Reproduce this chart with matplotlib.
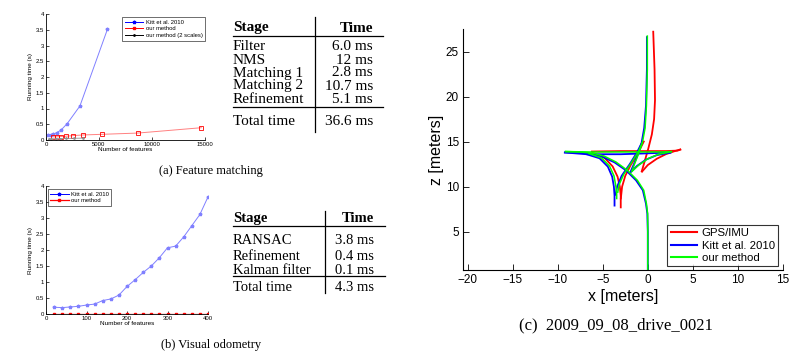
import matplotlib
matplotlib.use("Agg")
import matplotlib.pyplot as plt
from matplotlib.lines import Line2D

plt.rcParams['font.family'] = ['Liberation Sans', 'DejaVu Sans']

# ---------------- data ----------------
# (a) feature matching running time
kitt_a_x = [200, 450, 700, 1000, 1400, 2000, 3200, 5800]
kitt_a_y = [0.15, 0.17, 0.19, 0.23, 0.31, 0.52, 1.08, 3.52]
ours_a_x = [700, 1050, 1400, 1900, 2550, 3500, 5250, 8650, 14650]
ours_a_y = [0.10, 0.10, 0.11, 0.12, 0.14, 0.16, 0.18, 0.22, 0.39]
ours2_a_x = [250, 500, 900, 1300, 1900, 2600, 3500]
ours2_a_y = [0.03, 0.035, 0.04, 0.045, 0.05, 0.055, 0.06]

# (b) visual odometry running time
feat_b = [20, 40, 60, 80, 100, 120, 140, 160, 180, 200, 220, 240, 260, 280,
          300, 320, 340, 360, 380, 400]
kitt_b = [0.21, 0.20, 0.22, 0.24, 0.28, 0.31, 0.42, 0.47, 0.59, 0.86, 1.07,
          1.30, 1.50, 1.76, 2.07, 2.12, 2.41, 2.76, 3.11, 3.66]
ours_b = [0.005] * 20

# tables
stages_a = ["Filter", "NMS", "Matching 1", "Matching 2", "Refinement"]
times_a = ["6.0 ms", "12 ms", "2.8 ms", "10.7 ms", "5.1 ms"]
total_a = "36.6 ms"
stages_b = ["RANSAC", "Refinement", "Kalman filter"]
times_b = ["3.8 ms", "0.4 ms", "0.1 ms"]
total_b = "4.3 ms"

# (c) trajectories (x, z) in meters, as segments
gps_x = [[-6.3, -3.0, 0.0, 2.0, 3.3, 3.7],
         [-6.2, -4.8, -3.9, -3.35, -3.1, -3.0, -3.0],
         [-3.0, -2.85, -2.5, -1.9, -1.2, -0.7, -0.4],
         [0.6, 0.75, 0.8, 0.7, 0.45, 0.05, -0.35, -0.7],
         [-0.7, 0.0, 1.0, 2.0, 3.0, 3.7]]
gps_z = [[13.9, 13.95, 13.95, 13.95, 14.0, 14.15],
         [13.75, 13.2, 12.25, 11.1, 10.0, 9.0, 7.6],
         [8.6, 10.0, 11.2, 12.4, 13.5, 14.5, 15.1],
         [27.3, 23.0, 19.6, 17.5, 15.8, 14.2, 12.8, 11.6],
         [11.6, 12.4, 13.1, 13.6, 13.95, 14.15]]

kitt_x = [[0, 0, -0.05, -0.2, -0.55, -1.3, -2.4, -3.7, -5.0, -6.1, -7.5, -9.3],
          [-9.3, -6.8, -3.0, 0.0, 1.3, 2.6],
          [-6.8, -5.35, -4.43, -3.95, -3.76, -3.69, -3.69],
          [-3.6, -3.4, -2.9, -2.0, -1.2, -0.7, -0.4, -0.2, -0.1, -0.1],
          [-0.7, -1.1, -1.5, -1.95],
          [-1.95, -1.2, -0.2, 1.0, 2.6]]
kitt_z = [[0.75, 5, 7, 8.1, 9.6, 10.7, 11.8, 12.7, 13.3, 13.6, 13.75, 13.8],
          [13.8, 13.6, 13.6, 13.7, 13.75, 13.8],
          [13.6, 13.15, 12.22, 11.11, 10.0, 9.0, 7.8],
          [9.0, 10.0, 11.2, 12.5, 13.8, 14.8, 16.5, 19.0, 23.0, 26.7],
          [14.8, 13.6, 12.6, 11.56],
          [11.56, 12.3, 13.0, 13.5, 13.8]]

ours_x = [[0, 0, -0.02, -0.15, -0.45, -1.15, -2.25, -3.55, -4.85, -6.0, -7.5, -9.2],
          [-9.2, -6.5, -3.0, 0.0, 1.5, 2.7],
          [-6.6, -5.15, -4.25, -3.75, -3.55, -3.45, -3.45],
          [-3.35, -3.15, -2.65, -1.8, -1.05, -0.6, -0.3, -0.15, -0.05, -0.05],
          [-0.6, -1.0, -1.4, -1.8],
          [-1.8, -1.0, 0.0, 1.2, 2.7]]
ours_z = [[0.75, 5, 7, 8.1, 9.6, 10.7, 11.8, 12.75, 13.4, 13.7, 13.85, 13.9],
          [13.9, 13.85, 13.85, 13.85, 13.85, 13.9],
          [13.7, 13.2, 12.3, 11.2, 10.1, 9.2, 8.6],
          [9.3, 10.3, 11.4, 12.7, 13.9, 14.9, 16.5, 19.0, 23.0, 26.8],
          [14.9, 13.7, 12.7, 11.65],
          [11.65, 12.4, 13.1, 13.6, 13.9]]

# ---------------- figure ----------------
W, H = 800, 359
fig = plt.figure(figsize=(W / 100, H / 100), dpi=100)


def box(l, t, r, b):
    return [l / W, 1 - b / H, (r - l) / W, (b - t) / H]


def style_small(ax):
    for s in ['top', 'right']:
        ax.spines[s].set_visible(False)
    for s in ['left', 'bottom']:
        ax.spines[s].set_linewidth(0.6)
    ax.tick_params(direction='in', length=2, width=0.5, labelsize=4.3, pad=1.5)


# (a)
ax1 = fig.add_axes(box(46, 14, 205, 140))
ax1.plot(kitt_a_x, kitt_a_y, color='#8080ff', lw=0.7, marker='*', ms=2.5)
ax1.plot(ours_a_x, ours_a_y, color='#ff8080', lw=0.7, marker='s', ms=2.5,
         mfc='none', mec='red', mew=0.6)
ax1.plot(ours2_a_x, ours2_a_y, color='#909090', lw=0.6, marker='.', ms=2)
ax1.set_xlim(0, 15000)
ax1.set_ylim(0, 4)
ax1.set_xticks([0, 5000, 10000, 15000])
ax1.set_yticks([0, 0.5, 1, 1.5, 2, 2.5, 3, 3.5, 4])
ax1.set_yticklabels(['0', '0.5', '1', '1.5', '2', '2.5', '3', '3.5', '4'])
style_small(ax1)
ax1.set_xlabel('Number of features', fontsize=4.6, labelpad=0)
ax1.set_ylabel('Running time (s)', fontsize=4.6, labelpad=2)
h1 = [Line2D([], [], color='b', lw=0.7, marker='*', ms=2.5),
      Line2D([], [], color='r', lw=0.7, marker='s', ms=2),
      Line2D([], [], color='k', lw=0.7, marker='.', ms=2)]
leg = ax1.legend(h1, ['Kitt et al. 2010', 'our method', 'our method (2 scales)'],
                 loc='upper right', bbox_to_anchor=(1.0, 0.975), fontsize=4.2,
                 frameon=True, fancybox=False, edgecolor='k', handlelength=3.2,
                 borderpad=0.4, labelspacing=0.3, handletextpad=0.4, borderaxespad=0)
leg.get_frame().set_linewidth(0.5)

# (b)
ax2 = fig.add_axes(box(46, 186, 208, 314))
ax2.plot(feat_b, kitt_b, color='#8080ff', lw=0.7, marker='*', ms=2.5)
ax2.plot(feat_b, ours_b, color='red', lw=0.9, marker='s', ms=2)
ax2.set_xlim(0, 400)
ax2.set_ylim(0, 4)
ax2.set_xticks([0, 100, 200, 300, 400])
ax2.set_yticks([0, 0.5, 1, 1.5, 2, 2.5, 3, 3.5, 4])
ax2.set_yticklabels(['0', '0.5', '1', '1.5', '2', '2.5', '3', '3.5', '4'])
style_small(ax2)
ax2.set_xlabel('Number of features', fontsize=4.6, labelpad=0)
ax2.set_ylabel('Running time (s)', fontsize=4.6, labelpad=2)
h2 = [Line2D([], [], color='b', lw=0.7, marker='*', ms=2.5),
      Line2D([], [], color='r', lw=0.9, marker='s', ms=2)]
leg2 = ax2.legend(h2, ['Kitt et al. 2010', 'our method'], loc='upper left',
                  bbox_to_anchor=(0.01, 0.975), fontsize=4.2, frameon=True,
                  fancybox=False, edgecolor='k', handlelength=3.2, borderpad=0.4,
                  labelspacing=0.3, handletextpad=0.4, borderaxespad=0)
leg2.get_frame().set_linewidth(0.5)


# tables
def fx(x):
    return x / W


def fy(y):
    return 1 - y / H


def hline(x0, x1, y, lw=0.9):
    fig.add_artist(Line2D([fx(x0), fx(x1)], [fy(y), fy(y)],
                          transform=fig.transFigure, color='k', lw=lw))


def vline(x, y0, y1, lw=0.9):
    fig.add_artist(Line2D([fx(x), fx(x)], [fy(y0), fy(y1)],
                          transform=fig.transFigure, color='k', lw=lw))


serif = ['Liberation Serif', 'DejaVu Serif']


def table(stages, times, total, left, right, sep, tcol, y_head, rule1, rows,
          rule2, y_tot, vtop, vbot, fs):
    kw = dict(family=serif, fontsize=fs, va='center_baseline')
    fig.text(fx(left), fy(y_head), 'Stage', weight='bold', ha='left', **kw)
    fig.text(fx(tcol), fy(y_head), 'Time', weight='bold', ha='right', **kw)
    for s, t, y in zip(stages, times, rows):
        fig.text(fx(left), fy(y), s, ha='left', **kw)
        fig.text(fx(tcol), fy(y), t, ha='right', **kw)
    fig.text(fx(left), fy(y_tot), 'Total time', ha='left', **kw)
    fig.text(fx(tcol), fy(y_tot), total, ha='right', **kw)
    hline(left, right, rule1)
    hline(left, right, rule2)
    vline(sep, vtop, vbot)


table(stages_a, times_a, total_a, 233, 383, 314.5, 373, 26.5, 36,
      [45.5, 58.5, 71.5, 84.5, 98], 107.5, 119.5, 17, 132, 11)
table(stages_b, times_b, total_b, 233, 385, 324.5, 374, 217, 226,
      [239.5, 255, 269], 276, 286, 211, 293, 10.5)

fig.text(fx(211), fy(171), '(a) Feature matching', family=serif, fontsize=9,
         ha='center', va='center')
fig.text(fx(211), fy(345), '(b) Visual odometry', family=serif, fontsize=9,
         ha='center', va='center')
fig.text(fx(616), fy(325), '(c)  2009_09_08_drive_0021', family=serif,
         fontsize=12, ha='center', va='center')

# (c)
ax3 = fig.add_axes(box(463, 29, 783, 270))
for xs, zs in zip(gps_x, gps_z):
    ax3.plot(xs, zs, color='#ff0000', lw=1.3, solid_capstyle='butt')
for xs, zs in zip(kitt_x, kitt_z):
    ax3.plot(xs, zs, color='#0000ff', lw=1.3, solid_capstyle='butt')
for xs, zs in zip(ours_x, ours_z):
    ax3.plot(xs, zs, color='#00ff00', lw=1.1, solid_capstyle='butt')
ax3.set_xlim(-20.5, 15)
ax3.set_ylim(0.75, 27.5)
ax3.set_xticks([-20, -15, -10, -5, 0, 5, 10, 15])
ax3.set_yticks([5, 10, 15, 20, 25])
for s in ['top', 'right']:
    ax3.spines[s].set_visible(False)
for s in ['left', 'bottom']:
    ax3.spines[s].set_linewidth(0.8)
ax3.tick_params(direction='in', length=4, width=0.6, labelsize=8.5, pad=3)
ax3.set_xlabel('x [meters]', fontsize=11.5, labelpad=2)
ax3.set_ylabel('z [meters]', fontsize=11.5, labelpad=1)
h3 = [Line2D([], [], color='#ff0000', lw=1.5),
      Line2D([], [], color='#0000ff', lw=1.5),
      Line2D([], [], color='#00ff00', lw=1.5)]
leg3 = ax3.legend(h3, ['GPS/IMU', 'Kitt et al. 2010', 'our method'],
                  loc='lower right', bbox_to_anchor=(0.985, 0.015), fontsize=8.2,
                  frameon=True, fancybox=False, edgecolor='k', handlelength=2.3,
                  borderpad=0.3, labelspacing=0.2, handletextpad=0.4,
                  borderaxespad=0)
leg3.get_frame().set_linewidth(0.8)

fig.savefig('out.png', dpi=100)
